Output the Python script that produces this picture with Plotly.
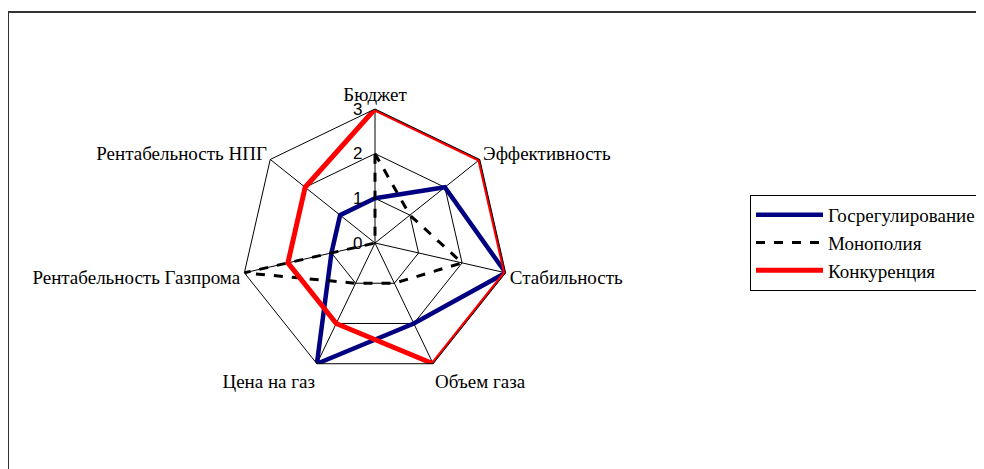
import plotly.graph_objects as go

categories = ["Бюджет", "Эффективность", "Стабильность", "Объем газа",
              "Цена на газ", "Рентабельность Газпрома", "Рентабельность НПГ"]
gosreg = [1, 2, 3, 2, 3, 1, 1]
monopoly = [2, 1, 2, 1, 1, 3, 0]
competition = [3, 3, 3, 3, 2, 2, 2]
radial_ticks = [0, 1, 2, 3]

W, H = 984, 469
# figure coords (page body offset of 8px accounted for)
cx, cy, R = 367, 235, 134

def closed(v):
    return v + [v[0]]

fig = go.Figure()
fig.add_trace(go.Scatterpolar(r=closed(gosreg), theta=closed(categories), mode="lines",
                              name="Госрегулирование", line=dict(color="#000080", width=4.5)))
fig.add_trace(go.Scatterpolar(r=closed(monopoly), theta=closed(categories), mode="lines",
                              name="Монополия", line=dict(color="black", width=3, dash="9px,9px")))
fig.add_trace(go.Scatterpolar(r=closed(competition), theta=closed(categories), mode="lines",
                              name="Конкуренция", line=dict(color="#FF0000", width=5)))

fig.update_layout(
    width=W, height=H,
    margin=dict(l=0, r=0, t=0, b=0),
    paper_bgcolor="white",
    plot_bgcolor="white",
    showlegend=True,
    polar=dict(
        domain=dict(x=[(cx - R) / W, (cx + R) / W], y=[(H - cy - R) / H, (H - cy + R) / H]),
        bgcolor="white",
        gridshape="linear",
        angularaxis=dict(rotation=90, direction="clockwise", showline=True, linecolor="black",
                         linewidth=1, gridcolor="black", gridwidth=1, ticks="",
                         tickfont=dict(family="Liberation Serif", size=19, color="black")),
        radialaxis=dict(range=[0, 3], tickvals=radial_ticks, angle=90, side="counterclockwise",
                        tickangle=90, showline=False, gridcolor="black", gridwidth=1,
                        ticks="outside", ticklen=6, tickcolor="rgba(0,0,0,0)",
                        tickfont=dict(family="Liberation Sans", size=17, color="black")),
    ),
    legend=dict(x=742 / W, y=1 - 187 / H, xanchor="left", yanchor="top",
                bordercolor="black", borderwidth=1, bgcolor="white",
                font=dict(family="Liberation Serif", size=19, color="black"),
                tracegroupgap=4, itemwidth=67),
    shapes=[dict(type="rect", xref="paper", yref="paper", x0=0, x1=1.1, y0=-0.1, y1=1 - 4 / H,
                 line=dict(color="#333333", width=2))],
)

fig.write_html("out.html")
